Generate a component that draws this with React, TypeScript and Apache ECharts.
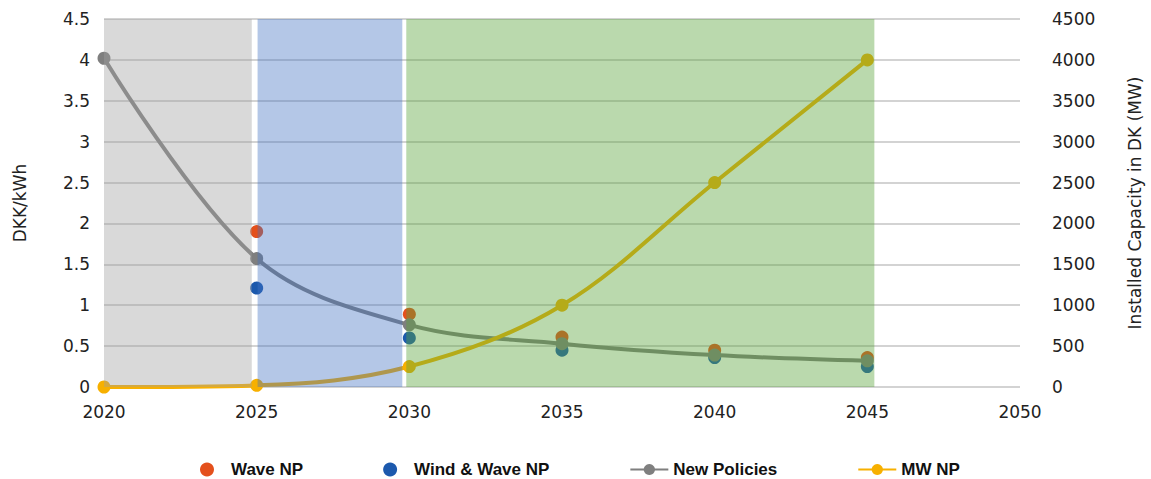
import React, { useEffect, useRef } from "react";
import * as echarts from "echarts";

const years = [2020, 2025, 2030, 2035, 2040, 2045];
const waveNP: [number, number][] = [
  [2025, 1.9],
  [2030, 0.89],
  [2035, 0.61],
  [2040, 0.45],
  [2045, 0.36],
];
const windWaveNP: [number, number][] = [
  [2025, 1.21],
  [2030, 0.6],
  [2035, 0.45],
  [2040, 0.36],
  [2045, 0.25],
];
const newPolicies = [4.02, 1.57, 0.76, 0.53, 0.39, 0.32];
const mwNP = [0, 20, 250, 1000, 2500, 4000];

const phases = [
  { from: 2019.93, to: 2024.84, color: "rgba(160,160,160,0.4)" },
  { from: 2025.03, to: 2029.77, color: "rgba(68,114,196,0.4)" },
  { from: 2029.9, to: 2045.23, color: "rgba(90,165,60,0.42)" },
];
const phaseTop = 4.55;

const axisFont = "DejaVu Sans";
const legendFont = "'Liberation Sans', Arial, sans-serif";

export default function App() {
  const ref = useRef<HTMLDivElement>(null);
  useEffect(() => {
    if (!ref.current) return;
    const chart = echarts.init(ref.current, null, { renderer: "svg" });
    chart.setOption({
      animation: false,
      backgroundColor: "#ffffff",
      grid: { left: 104, right: 129, top: 19, bottom: 92, containLabel: false },
      legend: {
        left: 195,
        top: 456,
        itemGap: 80,
        itemWidth: 38,
        itemHeight: 14,
        textStyle: { fontFamily: legendFont, fontWeight: "bold", fontSize: 17, color: "#111" },
        data: ["Wave NP", "Wind & Wave NP", "New Policies", "MW NP"],
      },
      xAxis: {
        type: "value",
        min: 2020,
        max: 2050,
        interval: 5,
        axisLine: { show: false },
        axisTick: { show: false },
        splitLine: { show: false },
        axisLabel: {
          fontFamily: axisFont,
          fontSize: 17,
          color: "#222",
          margin: 16,
          formatter: (v: number) => String(v),
        },
      },
      yAxis: [
        {
          type: "value",
          min: 0,
          max: 4.5,
          interval: 0.5,
          name: "DKK/kWh",
          nameLocation: "middle",
          nameGap: 76,
          nameTextStyle: { fontFamily: axisFont, fontSize: 17, color: "#222" },
          axisLine: { show: false },
          axisTick: { show: false },
          splitLine: { lineStyle: { color: "#d3d3d3", width: 2 } },
          axisLabel: { fontFamily: axisFont, fontSize: 17, color: "#222", margin: 14 },
        },
        {
          type: "value",
          min: 0,
          max: 4500,
          interval: 500,
          name: "Installed Capacity in DK (MW)",
          nameLocation: "middle",
          nameGap: 106,
          nameRotate: 90,
          nameTextStyle: { fontFamily: axisFont, fontSize: 17, color: "#222" },
          axisLine: { show: false },
          axisTick: { show: false },
          splitLine: { show: false },
          axisLabel: {
            fontFamily: axisFont,
            fontSize: 17,
            color: "#222",
            margin: 32,
            formatter: (v: number) => String(v),
          },
        },
      ],
      series: [
        {
          name: "Wave NP",
          type: "scatter",
          z: 2,
          symbolSize: 13,
          itemStyle: { color: "#e4501c", opacity: 1 },
          data: waveNP,
        },
        {
          name: "Wind & Wave NP",
          type: "scatter",
          z: 2,
          symbolSize: 13,
          itemStyle: { color: "#1c59ad", opacity: 1 },
          data: windWaveNP,
        },
        {
          name: "New Policies",
          type: "line",
          z: 3,
          smooth: 0.35,
          symbol: "circle",
          symbolSize: 13,
          showSymbol: true,
          lineStyle: { color: "#7f7f7f", width: 4 },
          itemStyle: { color: "#7f7f7f" },
          data: years.map((y, i) => [y, newPolicies[i]]),
        },
        {
          name: "MW NP",
          type: "line",
          yAxisIndex: 1,
          z: 4,
          smooth: 0.35,
          symbol: "circle",
          symbolSize: 13,
          showSymbol: true,
          lineStyle: { color: "#f7b000", width: 4 },
          itemStyle: { color: "#f7b000" },
          data: years.map((y, i) => [y, mwNP[i]]),
        },
        {
          name: "phases",
          type: "line",
          z: 10,
          data: [],
          silent: true,
          markArea: {
            z: 10,
            silent: true,
            data: phases.map((p) => [
              { xAxis: p.from, yAxis: 0, itemStyle: { color: p.color } },
              { xAxis: p.to, yAxis: phaseTop },
            ]),
          },
        },
      ],
    });
    return () => chart.dispose();
  }, []);
  return (
    <div
      ref={ref}
      style={{ position: "fixed", left: 0, top: 0, width: 1151, height: 479 }}
    />
  );
}
